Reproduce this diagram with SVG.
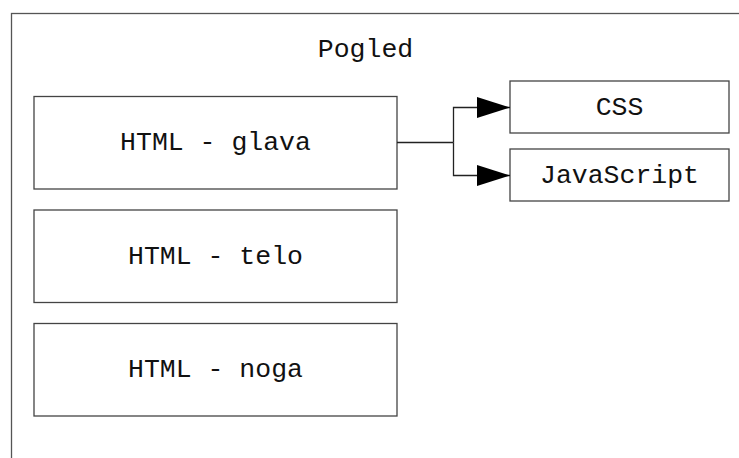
<svg xmlns="http://www.w3.org/2000/svg" width="739" height="458" viewBox="0 0 739 458">
  <defs>
    <style>
      .frame { fill: #ffffff; stroke: #555555; stroke-width: 1.3; }
      .box { fill: #ffffff; stroke: #444444; stroke-width: 1.3; }
      .lbl { font-family: "Liberation Mono", "DejaVu Sans Mono", monospace; font-size: 26.5px; fill: #111111; text-anchor: middle; }
      .conn { fill: none; stroke: #222222; stroke-width: 1.3; }
    </style>
    <marker id="arr" markerUnits="userSpaceOnUse" markerWidth="34" markerHeight="22" refX="33" refY="11" orient="auto">
      <path d="M0,0.5 L33,11 L0,21.5 Z" fill="#000000"/>
    </marker>
  </defs>
  <rect width="739" height="458" fill="#ffffff"/>
  <g id="pogled">
    <rect class="frame" x="11.5" y="13.5" width="740" height="460"/>
    <text class="lbl" x="365.5" y="57">Pogled</text>
  </g>
  <g id="glava">
    <rect class="box" x="34" y="96.5" width="363" height="92.5"/>
    <text class="lbl" x="215.5" y="150">HTML - glava</text>
  </g>
  <g id="telo">
    <rect class="box" x="34" y="210" width="363" height="92.5"/>
    <text class="lbl" x="215.5" y="263.5">HTML - telo</text>
  </g>
  <g id="noga">
    <rect class="box" x="34" y="323.5" width="363" height="92.5"/>
    <text class="lbl" x="215.5" y="377">HTML - noga</text>
  </g>
  <g id="css">
    <rect class="box" x="510" y="81" width="219" height="52"/>
    <text class="lbl" x="619.5" y="115">CSS</text>
  </g>
  <g id="javascript">
    <rect class="box" x="510" y="149" width="219" height="52"/>
    <text class="lbl" x="619.5" y="183">JavaScript</text>
  </g>
  <g id="connectors">
    <path class="conn" d="M397,142.5 H453.5"/>
    <path class="conn" d="M453.5,142.5 V107.5 H510" marker-end="url(#arr)"/>
    <path class="conn" d="M453.5,142.5 V175.5 H510" marker-end="url(#arr)"/>
  </g>
</svg>
